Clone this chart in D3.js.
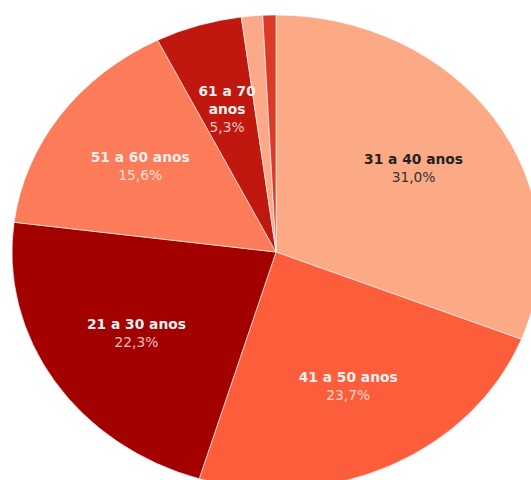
<!DOCTYPE html>
<html>
<head>
<meta charset="utf-8">
<script src="https://cdn.jsdelivr.net/npm/d3@7"></script>
<style>
  html, body { margin: 0; padding: 0; background: #fff; }
  svg { display: block; font-family: "DejaVu Sans", sans-serif; }
</style>
</head>
<body>
<div id="chart"></div>
<script>
'use strict';

/* Data */
var categories = ['31 a 40 anos', '41 a 50 anos', '21 a 30 anos', '51 a 60 anos', '61 a 70 anos', '71 a 80 anos', 'até 20 anos']
var values = [31.0, 23.7, 22.3, 15.6, 5.3, 1.3, 0.8]
var colors = ['#fcaa86', '#fc5e3c', '#a30000', '#fc7b58', '#c0170f', '#fca98a', '#dc3a26']
var showLabel = [true, true, true, true, true, false, false]
var darkText = [true, false, false, false, false, false, false]

var width = 531, height = 480
var cx = 276, cy = 252
var rx = 264, ry = 237

var data = categories.map(function(c, i){
  return {name: c, value: values[i], color: colors[i], label: showLabel[i], dark: darkText[i]}
})

var svg = d3.select('#chart').append('svg')
  .attr('width', width)
  .attr('height', height)

// the pie is drawn as a circle and squeezed vertically
var g = svg.append('g')
  .attr('transform', 'translate(' + cx + ',' + cy + ') scale(1,' + (ry / rx) + ')')

var pie = d3.pie()
  .sort(null)
  .value(function(d){ return d.value })

var arcs = pie(data)

var arc = d3.arc()
  .innerRadius(0)
  .outerRadius(rx)

var labelArc = d3.arc()
  .innerRadius(rx * 0.63)
  .outerRadius(rx * 0.63)

g.selectAll('path.slice')
  .data(arcs)
  .enter().append('path')
    .attr('class', 'slice')
    .attr('d', arc)
    .attr('fill', function(d){ return d.data.color })
    .attr('stroke', '#fff')
    .attr('stroke-width', 1)
    .attr('stroke-opacity', 0.6)
    .attr('vector-effect', 'non-scaling-stroke')

// Labels (outside the squeezed group so text is not distorted)
var fmt = function(v){ return v.toFixed(1).replace('.', ',') + '%' }

var labels = svg.append('g')
  .attr('transform', 'translate(' + cx + ',' + cy + ')')

arcs.filter(function(d){ return d.data.label }).forEach(function(d){
  var c = labelArc.centroid(d)
  var x = c[0], y = c[1] * ry / rx
  // narrow slice: wrap the name on two lines
  var lines = d.data.value < 10 ? [d.data.name.replace(' anos', ''), 'anos'] : [d.data.name]
  var lh = 18
  var top = y - 4 - (lines.length - 1) * lh / 2
  var t = labels.append('text')
    .attr('text-anchor', 'middle')
    .attr('font-size', '13.8px')
  lines.forEach(function(l, i){
    t.append('tspan')
      .attr('x', x)
      .attr('y', top + i * lh)
      .attr('font-weight', 'bold')
      .attr('fill', d.data.dark ? '#222' : '#efefef')
      .text(l)
  })
  t.append('tspan')
    .attr('x', x)
    .attr('y', top + lines.length * lh)
    .attr('fill', d.data.dark ? '#333' : '#fff')
    .attr('fill-opacity', d.data.dark ? 1 : 0.75)
    .text(fmt(d.data.value))
})
</script>
</body>
</html>
